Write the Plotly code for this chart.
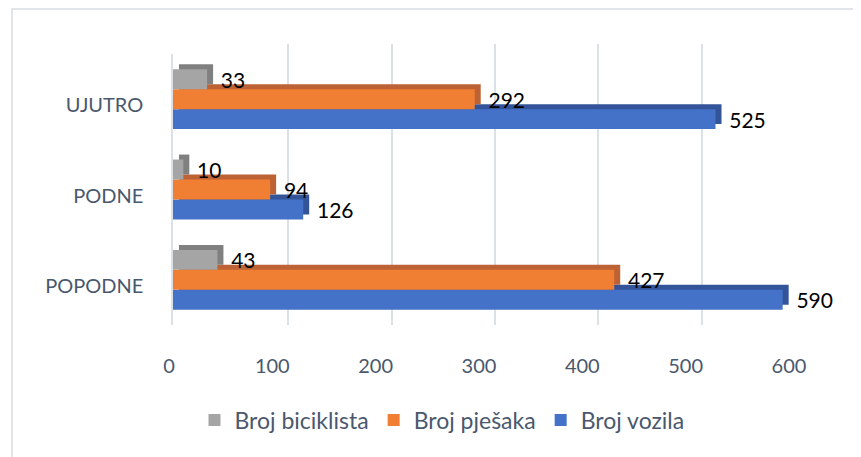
import plotly.graph_objects as go

categories = ["UJUTRO", "PODNE", "POPODNE"]
broj_vozila = [525, 126, 590]
broj_pjesaka = [292, 94, 427]
broj_biciklista = [33, 10, 43]
x_ticks = [0, 100, 200, 300, 400, 500, 600]

W, H = 861, 457
OFF = 8  # page body margin: figure pixels = page pixels - OFF
series = [
    ("Broj vozila", broj_vozila, "#4472C8", "#34549A"),
    ("Broj pješaka", broj_pjesaka, "#F07F34", "#BD6234"),
    ("Broj biciklista", broj_biciklista, "#A5A5A5", "#808080"),
]

def xd(a, b):
    return [(a - OFF) / W, (b - OFF) / W]

def yd(top, bottom):
    return [1 - (bottom - OFF) / H, 1 - (top - OFF) / H]

FRONT_L, FRONT_R = 173, 793
FRONT_T, FRONT_B = 54, 325
DX, DY = 6, 5      # depth of the bar faces
GX = 12            # depth of the back wall (grid)

fig = go.Figure()

# grid subplot (xy) - invisible anchor trace
fig.add_trace(go.Scatter(x=broj_vozila, y=categories, mode="markers",
                         marker=dict(opacity=0), showlegend=False,
                         hoverinfo="skip", xaxis="x", yaxis="y"))

# depth faces (x2y2)
for name, vals, front, dark in series:
    fig.add_trace(go.Bar(x=vals, y=categories, orientation="h", name=name,
                         marker=dict(color=dark, line=dict(width=0)),
                         showlegend=False, hoverinfo="skip",
                         xaxis="x2", yaxis="y2"))

# front faces (x3y3)
for name, vals, front, dark in series:
    fig.add_trace(go.Bar(x=vals, y=categories, orientation="h", name=name,
                         marker=dict(color=front, line=dict(width=0)),
                         text=vals, texttemplate="\u00a0\u00a0%{x}",
                         textposition="outside", cliponaxis=False,
                         constraintext="none",
                         textfont=dict(family="Lato", size=21, color="#000000"),
                         xaxis="x3", yaxis="y3"))

cat_axis = dict(type="category", categoryorder="array",
                categoryarray=categories[::-1], range=[-0.5, 2.5],
                showgrid=False, zeroline=False, fixedrange=True,
                automargin=False)
val_axis = dict(range=[0, 600], zeroline=False, fixedrange=True,
                automargin=False)

fig.update_layout(
    template="none",
    width=W, height=H,
    margin=dict(l=0, r=0, t=0, b=0, pad=0),
    paper_bgcolor="white", plot_bgcolor="rgba(0,0,0,0)",
    barmode="group", bargap=0.337, bargroupgap=0,
    font=dict(family="Lato", size=20, color="#4A586E"),
    xaxis=dict(val_axis, domain=xd(FRONT_L + GX, FRONT_R + GX), anchor="y",
               showgrid=True, gridcolor="#DCE0E7", gridwidth=1.5,
               tickvals=x_ticks, showticklabels=False, showline=False,
               ticks=""),
    yaxis=dict(cat_axis, domain=yd(44, FRONT_B), anchor="x",
               showticklabels=False, showline=False, ticks=""),
    xaxis2=dict(val_axis, domain=xd(FRONT_L + DX, FRONT_R + DX), anchor="y2",
                showgrid=False, showticklabels=False, showline=False,
                ticks=""),
    yaxis2=dict(cat_axis, domain=yd(FRONT_T - DY, FRONT_B - DY), anchor="x2",
                showticklabels=False, showline=False, ticks=""),
    xaxis3=dict(val_axis, domain=xd(FRONT_L, FRONT_R), anchor="y3",
                showgrid=False, tickvals=x_ticks, ticks="",
                ticklabelstandoff=27, ticklabelshift=-4, showline=False,
                tickfont=dict(family="Lato", size=20, color="#4A586E")),
    yaxis3=dict(cat_axis, domain=yd(FRONT_T, FRONT_B), anchor="x3",
                ticks="", ticklabelstandoff=24, ticklabelshift=6,
                showline=True, linecolor="#DCE0E7", linewidth=1.5,
                tickfont=dict(family="Lato", size=20, color="#4A586E")),
    legend=dict(orientation="h", x=(442 - OFF) / W, xanchor="center",
                y=1 - (420 - OFF) / H, yanchor="middle", traceorder="reversed",
                font=dict(family="Lato", size=23, color="#4A586E"),
                itemwidth=30, bgcolor="rgba(0,0,0,0)", borderwidth=0),
    shapes=[dict(type="rect", xref="paper", yref="paper",
                 x0=(12 - OFF) / W, x1=1.2, y0=-0.2, y1=1 - 0.002,
                 line=dict(color="#D9DDE3", width=1.5), layer="below")],
    showlegend=True,
)

fig.write_html("out.html")
